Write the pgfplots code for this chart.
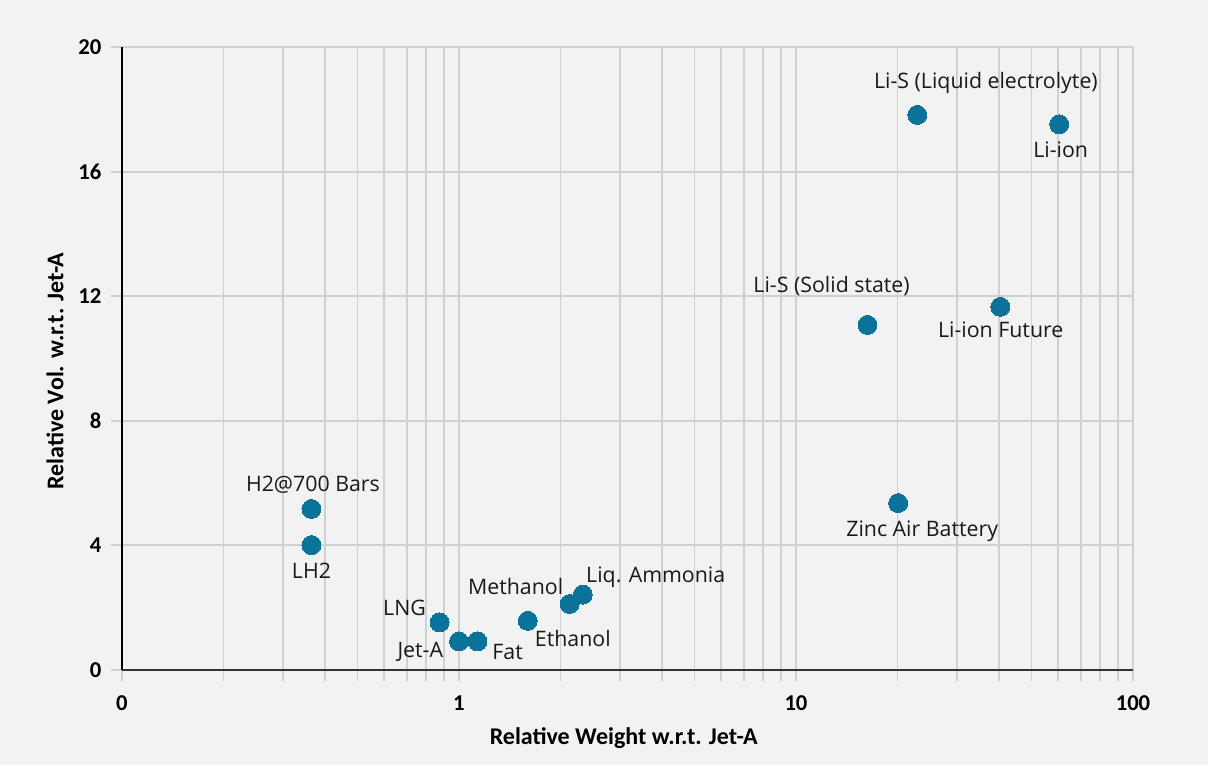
\documentclass[border=0pt]{standalone}
\usepackage{pgfplots}
\pgfplotsset{compat=1.18}
\usepackage{fontspec}
\setmainfont{Carlito}
\newfontfamily\lblfont{Open Sans}
\definecolor{bg}{HTML}{F2F2F2}
\definecolor{gridc}{HTML}{D0D0D0}
\definecolor{mk}{HTML}{0B7399}
\begin{document}
\begin{tikzpicture}[x=1pt,y=1pt]
\fill[bg] (-91.5,-71.25) rectangle (814.5,502.5);
\useasboundingbox (-91.5,-71.25) rectangle (814.5,502.5);
\begin{axis}[
  at={(0,0)}, anchor=south west,
  scale only axis, width=758.25pt, height=467.25pt,
  xmode=log, xmin=0.1, xmax=100, ymin=0, ymax=20,
  xtick={0.1,1,10,100}, xticklabels={0,1,10,100},
  ytick={0,4,8,12,16,20},
  xmajorgrids, xminorgrids, ymajorgrids,
  major grid style={gridc, line width=1.4pt},
  minor grid style={gridc, line width=1.4pt},
  axis x line*=bottom, axis y line*=left,
  x axis line style={line width=1.5pt, black!80, -},
  y axis line style={line width=1.5pt, black, -},
  tick style={gridc, line width=1.4pt},
  tick align=outside, major tick length=8pt, minor tick length=8pt,
  /pgf/number format/assume math mode=true,
  ticklabel style={font=\fontsize{17}{20}\selectfont\bfseries, text=black},
  xticklabel style={yshift=-8pt},
  yticklabel style={xshift=-4pt},
  xlabel={Relative Weight w.r.t. Jet-A},
  ylabel={Relative Vol. w.r.t. Jet-A},
  label style={font=\fontsize{18}{21}\selectfont\bfseries},
  xlabel style={at={(axis description cs:0.4963,-0.1091)}, anchor=center},
  ylabel style={at={(axis description cs:-0.0662,0.4799)}, anchor=center},
  clip=false,
]
\addplot[only marks, mark=*, mark size=7.1pt, color=mk, mark options={draw=mk, fill=mk, line width=0pt}] table {
x y
0.365 5.17
0.365 4.01
0.876 1.53
1.0 0.92
1.134 0.92
1.60 1.58
2.13 2.12
2.33 2.42
22.9 17.82
60.4 17.52
16.3 11.08
40.4 11.66
20.1 5.36
};
\begin{scope}[every node/.style={font=\lblfont\fontsize{16}{19}\selectfont, text=black!90, anchor=center}]
\node[xshift=1.1pt, yshift=18pt] at (axis cs:0.365,5.17) {H2@700 Bars};
\node[yshift=-19.3pt] at (axis cs:0.365,4.01) {LH2};
\node[xshift=-26.3pt, yshift=10.7pt] at (axis cs:0.876,1.53) {LNG};
\node[xshift=-29pt, yshift=-7.8pt] at (axis cs:1.0,0.92) {Jet-A};
\node[xshift=22.7pt, yshift=-8pt] at (axis cs:1.134,0.92) {Fat};
\node[xshift=33.8pt, yshift=-13pt] at (axis cs:1.60,1.58) {Ethanol};
\node[xshift=-40.5pt, yshift=13pt] at (axis cs:2.13,2.12) {Methanol};
\node[xshift=54.7pt, yshift=13.3pt] at (axis cs:2.33,2.42) {Liq. Ammonia};
\node[xshift=51.5pt, yshift=24.2pt] at (axis cs:22.9,17.82) {Li-S (Liquid electrolyte)};
\node[xshift=1.1pt, yshift=-19.3pt] at (axis cs:60.4,17.52) {Li-ion};
\node[xshift=-26.9pt, yshift=29.3pt] at (axis cs:16.3,11.08) {Li-S (Solid state)};
\node[xshift=0.3pt, yshift=-17.5pt] at (axis cs:40.4,11.66) {Li-ion Future};
\node[xshift=18pt, yshift=-21.2pt] at (axis cs:20.1,5.36) {Zinc Air Battery};
\end{scope}
\end{axis}
\end{tikzpicture}
\end{document}
